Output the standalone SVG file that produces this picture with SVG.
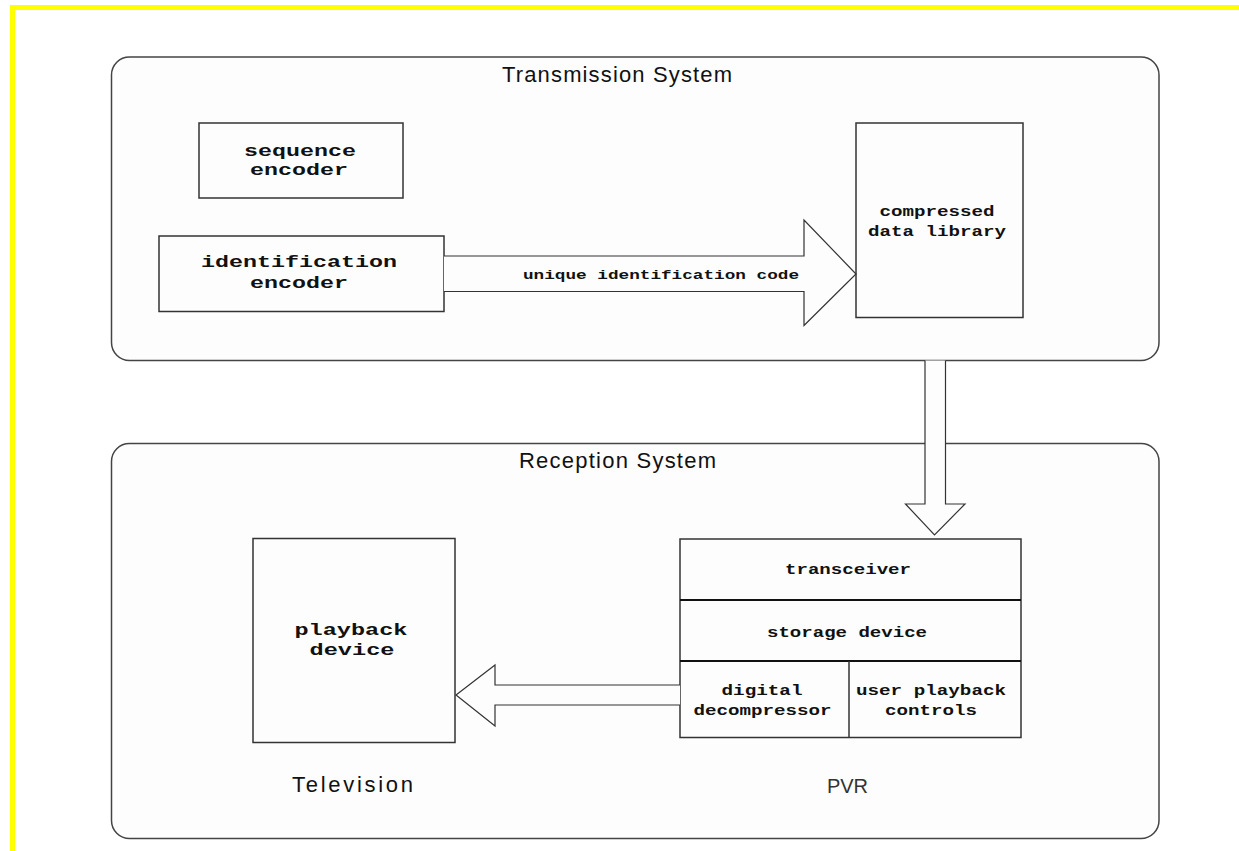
<svg xmlns="http://www.w3.org/2000/svg" width="1239" height="851" viewBox="0 0 1239 851">
<style>
.sys{fill:#fdfdfd;stroke:#444;stroke-width:1.5}
.box{fill:#fdfdfd;stroke:#333;stroke-width:1.5}
.arr{fill:#fdfdfd;stroke:#333;stroke-width:1.2;stroke-linejoin:miter}
.title{font-family:"Liberation Sans",Arial,sans-serif;font-size:22px;fill:#111}
.mono{font-family:"Liberation Mono","Courier New",monospace;font-weight:bold;fill:#111;text-anchor:middle}
.big{font-size:17px}
.mid{font-size:15.5px}
.sm{font-size:13.5px}
</style>
<rect x="0" y="0" width="1239" height="851" fill="#ffffff"/>
<rect x="10" y="5" width="1229" height="5" fill="#ffff00"/>
<rect x="10" y="5" width="5" height="846" fill="#ffff00"/>

<g id="transmission-system">
<rect class="sys" x="111.5" y="57" width="1047.5" height="303.5" rx="18" ry="18"/>
<text class="title" x="502" y="82" textLength="230" lengthAdjust="spacing">Transmission System</text>
</g>

<g id="reception-system">
<rect class="sys" x="111.5" y="443.5" width="1047.5" height="395" rx="18" ry="18"/>
<text class="title" x="519" y="467.5" textLength="197" lengthAdjust="spacing">Reception System</text>
</g>

<g id="sequence-encoder">
<rect class="box" x="199" y="123" width="204" height="75"/>
<text class="mono big" x="300" y="156" textLength="112" lengthAdjust="spacingAndGlyphs">sequence</text>
<text class="mono big" x="299" y="175" textLength="98" lengthAdjust="spacingAndGlyphs">encoder</text>
</g>

<g id="identification-encoder">
<rect class="box" x="159" y="236" width="285" height="75.5"/>
<text class="mono big" x="299" y="267" textLength="196" lengthAdjust="spacingAndGlyphs">identification</text>
<text class="mono big" x="299" y="288" textLength="98" lengthAdjust="spacingAndGlyphs">encoder</text>
</g>

<g id="compressed-data-library">
<rect class="box" x="856" y="123" width="167" height="194.5"/>
<text class="mono mid" x="937" y="215.5" textLength="115" lengthAdjust="spacingAndGlyphs">compressed</text>
<text class="mono mid" x="937" y="235.5" textLength="138" lengthAdjust="spacingAndGlyphs">data library</text>
</g>

<g id="playback-device">
<rect class="box" x="253" y="538.5" width="202" height="204"/>
<text class="mono big" x="351" y="635" textLength="113" lengthAdjust="spacingAndGlyphs">playback</text>
<text class="mono big" x="352" y="655" textLength="85" lengthAdjust="spacingAndGlyphs">device</text>
<text class="title" x="292" y="792" textLength="121" lengthAdjust="spacing">Television</text>
</g>

<g id="pvr">
<rect class="box" x="680" y="539" width="341" height="198.5"/>
<line x1="680" y1="600" x2="1021" y2="600" stroke="#111" stroke-width="2.2"/>
<line x1="680" y1="661" x2="1021" y2="661" stroke="#111" stroke-width="2.2"/>
<line x1="849" y1="661" x2="849" y2="737.5" stroke="#333" stroke-width="1.5"/>
<g id="transceiver">
<text class="mono mid" x="848" y="573.5" textLength="126" lengthAdjust="spacingAndGlyphs">transceiver</text>
</g>
<g id="storage-device">
<text class="mono mid" x="847" y="636.5" textLength="160" lengthAdjust="spacingAndGlyphs">storage device</text>
</g>
<g id="digital-decompressor">
<text class="mono mid" x="762" y="694.5" textLength="81" lengthAdjust="spacingAndGlyphs">digital</text>
<text class="mono mid" x="762.5" y="715" textLength="138" lengthAdjust="spacingAndGlyphs">decompressor</text>
</g>
<g id="user-playback-controls">
<text class="mono mid" x="931" y="694.5" textLength="150" lengthAdjust="spacingAndGlyphs">user playback</text>
<text class="mono mid" x="931" y="715" textLength="92" lengthAdjust="spacingAndGlyphs">controls</text>
</g>
<text x="827" y="793" font-family="'Liberation Sans',Arial,sans-serif" font-size="20" fill="#333" textLength="41" lengthAdjust="spacing">PVR</text>
</g>

<g id="connectors">
<path class="arr" d="M444,256 L804,256 L804,220 L856,274 L804,325.5 L804,291.5 L444,291.5"/>
<text class="mono sm" x="661" y="278.5" textLength="276" lengthAdjust="spacingAndGlyphs">unique identification code</text>
<path class="arr" d="M925,360.5 L925,504 L905.5,504 L934.5,535 L965,504 L945.5,504 L945.5,360.5"/>
<path class="arr" d="M680,685 L495,685 L495,665 L456,695 L495,726 L495,705 L680,705"/>
</g>
</svg>
